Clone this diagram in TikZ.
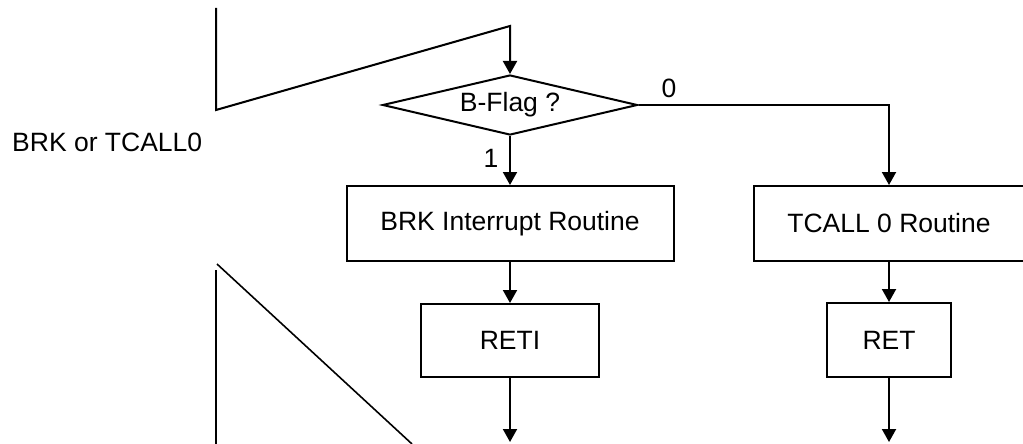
\documentclass[tikz,border=0pt]{standalone}
\usepackage{fontspec}
\setmainfont{Liberation Sans}
\usetikzlibrary{shapes.geometric,arrows.meta}
\begin{document}
\begin{tikzpicture}[x=1pt,y=-1pt,
  every node/.style={font=\fontsize{26.5}{30}\selectfont},
  flowline/.style={line width=2pt},
  arr/.style={flowline,-{Triangle[length=13pt,width=14pt]}},
  procbox/.style={draw,line width=2pt,rectangle,inner sep=0pt},
  decbox/.style={draw,line width=2pt,diamond,inner sep=0pt,aspect=4.25,minimum width=255pt,minimum height=60pt},
  lbl/.style={inner sep=0pt,anchor=base}]
\useasboundingbox (0,0) rectangle (1023,444);
\fill[white] (0,0) rectangle (1023,444);

% nodes
\node[decbox] (dec) at (510,105) {B-Flag ?};
\node[procbox,minimum width=327pt,minimum height=75pt] (brk) at (510,223.5) {BRK Interrupt Routine};
\node[procbox,minimum width=270pt,minimum height=75pt] (tcall) at (889,223.5) {TCALL 0 Routine};
\node[procbox,minimum width=178pt,minimum height=73pt] (reti) at (510,340.5) {RETI};
\node[procbox,minimum width=124pt,minimum height=74pt] (ret) at (889,340) {RET};
\node[inner sep=0pt,anchor=base west] (src) at (12,151.5) {BRK or TCALL0};
\node[lbl] (lzero) at (669,97) {0};
\node[lbl] (lone) at (491,167) {1};

% free-end coordinates
\coordinate (t1) at (216,8);
\coordinate (t2) at (216,110);
\coordinate (t3) at (510,26);
\coordinate (corner) at (889,105);
\coordinate (e1) at (510,442);
\coordinate (e2) at (889,442);
\coordinate (b1) at (216,270);
\coordinate (b2) at (216,444);
\coordinate (d1) at (217,264);
\coordinate (d2) at (412,444);

% connectors
\draw[arr] (t1) -- (t2) -- (t3) -- (dec.north);
\draw[arr] (dec.south) -- (brk.north);
\draw[arr] (dec.east) -- (corner) -- (tcall.north);
\draw[arr] (brk.south) -- (reti.north);
\draw[arr] (reti.south) -- (e1);
\draw[arr] (tcall.south) -- (ret.north);
\draw[arr] (ret.south) -- (e2);
\draw[flowline] (b1) -- (b2);
\draw[line width=1.6pt] (d1) -- (d2);
\end{tikzpicture}
\end{document}
